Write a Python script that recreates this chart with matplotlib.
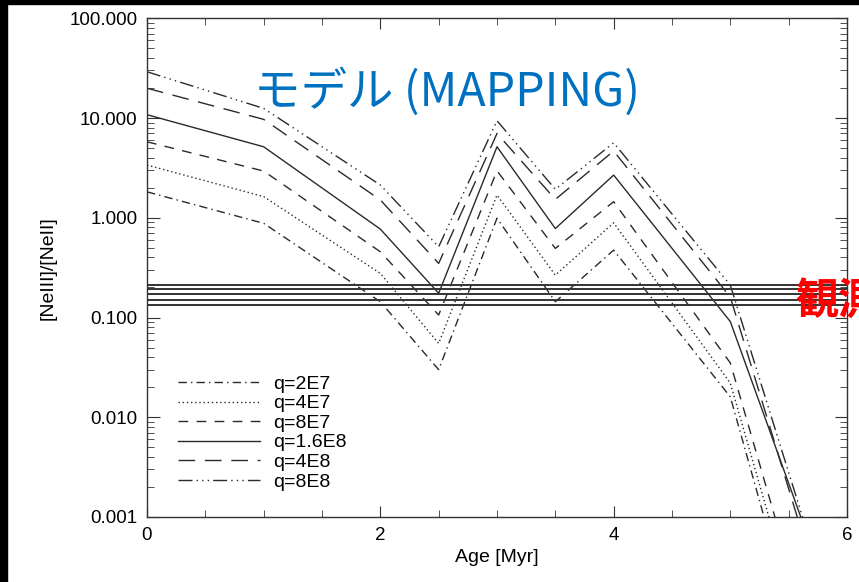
import numpy as np
import matplotlib
matplotlib.use('Agg')
import matplotlib.pyplot as plt
from matplotlib.patches import Rectangle
from matplotlib.ticker import LogLocator, FormatStrFormatter, MultipleLocator

# model tracks, [NeIII]/[NeII] against cluster age
age = [0, 1, 2, 2.5, 3, 3.5, 4, 5, 6]
q_labels = ['q=2E7', 'q=4E7', 'q=8E7', 'q=1.6E8', 'q=4E8', 'q=8E8']
ratio_2e7 = [1.82, 0.88, 0.144, 0.030, 0.99, 0.144, 0.474, 0.016, 1.1e-6]
ratio_4e7 = [3.38, 1.63, 0.277, 0.055, 1.69, 0.266, 0.89, 0.022, 1.9e-6]
ratio_8e7 = [5.78, 2.94, 0.456, 0.106, 2.96, 0.493, 1.45, 0.035, 3.2e-6]
ratio_16e8 = [10.8, 5.15, 0.77, 0.175, 5.15, 0.78, 2.68, 0.091, 5.2e-5]
ratio_4e8 = [19.9, 9.7, 1.51, 0.349, 7.0, 1.53, 4.67, 0.16, 2.3e-5]
ratio_8e8 = [29.1, 12.5, 2.13, 0.512, 9.4, 1.93, 5.65, 0.211, 3.7e-5]

# observed values
observed = [0.211, 0.191, 0.171, 0.150, 0.132]

series = [ratio_2e7, ratio_4e7, ratio_8e7, ratio_16e8, ratio_4e8, ratio_8e8]
styles = [(0, (6, 3, 1, 3)),
          (0, (1, 2)),
          (0, (7, 6)),
          '-',
          (0, (12, 7)),
          (0, (10, 3, 1, 3, 1, 3, 1, 3))]

plt.rcParams['font.family'] = ['Liberation Sans', 'DejaVu Sans']

W, H = 859, 582
fig = plt.figure(figsize=(W / 100, H / 100), dpi=100)
fig.patch.set_facecolor('white')
ax = fig.add_axes([147 / W, 1 - 517 / H, 700 / W, 498.7 / H])

line_col = '#2a2a2a'
for vals, ls, lab in zip(series, styles, q_labels):
    ax.plot(age, vals, linestyle=ls, color=line_col, lw=1.0, label=lab)

for v in observed:
    ax.axhline(v, color='#333333', lw=1.4)

ax.set_yscale('log')
ax.set_xlim(0, 6)
ax.set_ylim(0.001, 100)
ax.xaxis.set_major_locator(MultipleLocator(2))
ax.xaxis.set_minor_locator(MultipleLocator(0.5))
ax.yaxis.set_major_locator(LogLocator(base=10, numticks=10))
ax.yaxis.set_minor_locator(LogLocator(base=10, subs=np.arange(2, 10), numticks=20))
ax.yaxis.set_major_formatter(FormatStrFormatter('%.3f'))
ax.xaxis.set_major_formatter(FormatStrFormatter('%d'))
ax.tick_params(which='both', direction='in', top=True, right=True, color='#333333')
ax.tick_params(axis='y', which='major', length=9, labelsize=13.5, pad=7)
ax.tick_params(axis='y', which='minor', length=5)
ax.tick_params(axis='x', which='major', length=8, labelsize=13.5, pad=7)
ax.tick_params(axis='x', which='minor', length=5)
for s in ax.spines.values():
    s.set_color('#333333')
    s.set_linewidth(1.0)

ax.set_xlabel('Age [Myr]', fontsize=14, labelpad=4)
ax.set_ylabel('[NeIII]/[NeII]', fontsize=14, labelpad=9)

leg = ax.legend(loc='upper left', bbox_to_anchor=(0.033, 0.30), frameon=False,
                fontsize=14, handlelength=4.2, handletextpad=0.7,
                labelspacing=0.1, borderaxespad=0)

fig.text(254 / W, 1 - 106 / H, 'モデル (MAPPING)', color='#0070C0', fontsize=33.5,
         family=['Noto Sans CJK JP', 'DejaVu Sans'], va='baseline', ha='left')
fig.text(795 / W, 1 - 301 / H, '観測', color='#FF0000', fontsize=31, fontweight='bold',
         family=['Noto Sans CJK JP', 'DejaVu Sans'], va='center', ha='left')

# dark frame at the top and left edges
fig.patches.append(Rectangle((0, 1 - 4 / H), 1, 4 / H, transform=fig.transFigure,
                             color='black', zorder=10))
fig.patches.append(Rectangle((0, 0), 7 / W, 1, transform=fig.transFigure,
                             color='black', zorder=10))

fig.savefig('out.png', dpi=100)
